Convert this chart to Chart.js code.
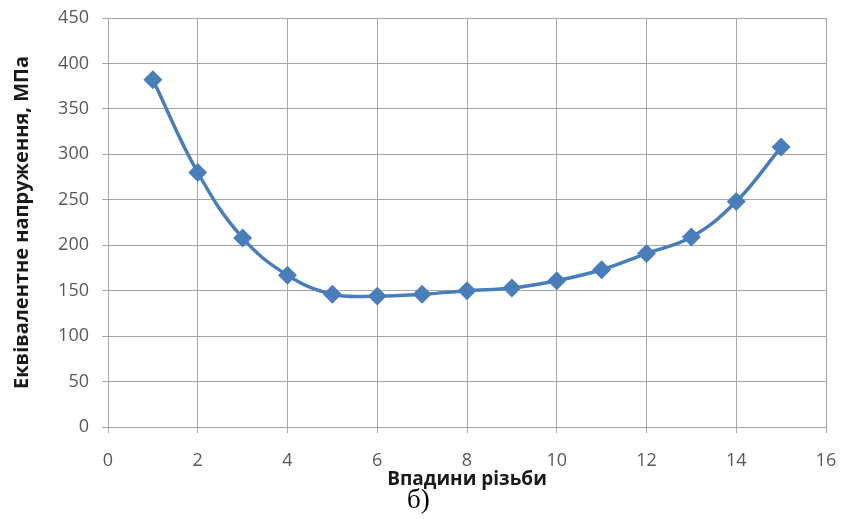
<!DOCTYPE html>
<html>
<head>
<meta charset="utf-8">
<script src="https://cdn.jsdelivr.net/npm/chart.js@4/dist/chart.umd.min.js"></script>
<style>
  body { margin: 0; background: #fff; }
  #wrap { position: relative; width: 844px; height: 519px; }
  #caption { position: absolute; left: 407px; top: 484px; font-family: "Liberation Serif", serif; font-size: 27px; color: #000; }
</style>
</head>
<body>
<div id="wrap">
  <canvas id="myChart" width="844" height="519"></canvas>
  <div id="caption">б)</div>
</div>
<script>
// впадини різьби (номер) та еквівалентні напруження, МПа
var troughs = [1, 2, 3, 4, 5, 6, 7, 8, 9, 10, 11, 12, 13, 14, 15];
var stress = [382, 280, 208, 167, 146, 144, 146, 150, 153, 161, 173, 191, 209, 248, 308];
var xTicks = [0, 2, 4, 6, 8, 10, 12, 14, 16];
var yTicks = [0, 50, 100, 150, 200, 250, 300, 350, 400, 450];

var gridColor = '#a6a6a6';
var ctx = document.getElementById('myChart').getContext('2d');
var chart = new Chart(ctx, {
    type: 'line',
    data: {
        datasets: [{
            label: 'stress',
            data: troughs.map((x, i) => ({ x: x, y: stress[i] })),
            borderColor: '#4a7ebb',
            backgroundColor: '#4a7ebb',
            borderWidth: 3.5,
            tension: 0.4,
            pointStyle: 'rectRot',
            pointRadius: 7,
            pointHoverRadius: 7
        }]
    },
    options: {
        responsive: false,
        animation: false,
        layout: { padding: { top: 18, right: 18, left: 0, bottom: 0 } },
        plugins: { legend: { display: false }, tooltip: { enabled: false } },
        scales: {
            x: {
                type: 'linear',
                min: xTicks[0],
                max: xTicks[xTicks.length - 1],
                afterFit: s => { s.height = 92; s.paddingRight = 0; s.paddingLeft = 0 },
                afterBuildTicks: s => { s.ticks = xTicks.map(v => ({ value: v })) },
                grid: { color: gridColor, tickLength: 6 },
                border: { color: gridColor },
                ticks: { color: '#595959', padding: 17, font: { family: 'Open Sans', size: 18 } },
                title: {
                    display: true, text: 'Впадини різьби', color: '#1a1a1a',
                    font: { family: 'Open Sans', size: 19, weight: 'bold' },
                    padding: { top: 0, bottom: 28 }
                }
            },
            y: {
                min: yTicks[0],
                max: yTicks[yTicks.length - 1],
                afterFit: s => { s.width = 108; s.paddingTop = 0; s.paddingBottom = 0 },
                afterBuildTicks: s => { s.ticks = yTicks.map(v => ({ value: v })) },
                grid: { color: gridColor, tickLength: 6 },
                border: { color: gridColor },
                ticks: { color: '#595959', padding: 13, font: { family: 'Open Sans', size: 18 } },
                title: {
                    display: true, text: 'Еквівалентне напруження, МПа', color: '#1a1a1a',
                    font: { family: 'Open Sans', size: 20, weight: 'bold' },
                    padding: { top: 10, bottom: 0 }
                }
            }
        }
    }
});
</script>
</body>
</html>
